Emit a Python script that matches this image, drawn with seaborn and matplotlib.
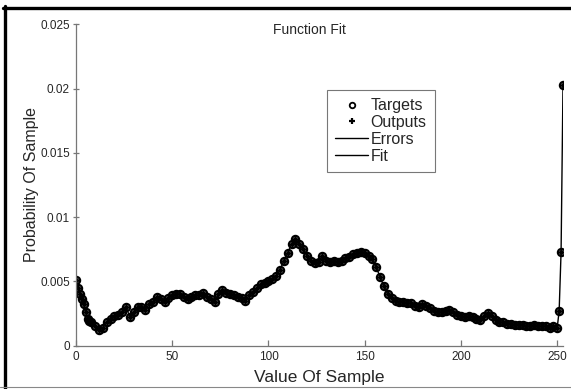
import numpy as np
import pandas as pd
import matplotlib
matplotlib.use("Agg")
import matplotlib.pyplot as plt
from matplotlib.lines import Line2D
import seaborn as sns

# ---- data ----
sample_values = [0, 1, 2, 3, 4, 5, 6, 7, 8, 10, 12, 14, 16, 18, 20, 22, 24, 26, 28, 30,
                 32, 34, 36, 38, 40, 42, 44, 46, 48, 50, 52, 54, 56, 58, 60, 62, 64, 66,
                 68, 70, 72, 74, 76, 78, 80, 82, 84, 86, 88, 90, 92, 94, 96, 98, 100, 102,
                 104, 106, 108, 110, 112, 114, 116, 118, 120, 122, 124, 126, 128, 130, 132,
                 134, 136, 138, 140, 142, 144, 146, 148, 150, 152, 154, 156, 158, 160, 162,
                 164, 166, 168, 170, 172, 174, 176, 178, 180, 182, 184, 186, 188, 190, 192,
                 194, 196, 198, 200, 202, 204, 206, 208, 210, 212, 214, 216, 218, 220, 222,
                 224, 226, 228, 230, 232, 234, 236, 238, 240, 242, 244, 246, 248, 250, 251,
                 252, 253]
targets_milli = [5.1, 4.5, 4.0, 3.6, 3.2, 2.6, 2.1, 1.9, 1.8, 1.5, 1.2, 1.4, 1.8, 2.1, 2.3,
                 2.4, 2.6, 3.0, 2.2, 2.6, 3.0, 3.0, 2.8, 3.2, 3.4, 3.8, 3.6, 3.4, 3.7, 3.9,
                 4.0, 4.0, 3.8, 3.6, 3.8, 3.9, 3.9, 4.1, 3.8, 3.6, 3.4, 4.0, 4.3, 4.1, 4.0,
                 3.9, 3.8, 3.7, 3.5, 3.9, 4.2, 4.5, 4.8, 4.9, 5.0, 5.2, 5.4, 5.9, 6.6, 7.2,
                 7.9, 8.3, 7.9, 7.5, 7.0, 6.6, 6.4, 6.5, 7.0, 6.6, 6.5, 6.6, 6.5, 6.6, 6.8,
                 6.9, 7.1, 7.2, 7.3, 7.2, 7.0, 6.7, 6.1, 5.3, 4.6, 4.0, 3.7, 3.5, 3.4, 3.4,
                 3.3, 3.3, 3.1, 3.0, 3.2, 3.1, 2.9, 2.7, 2.6, 2.6, 2.7, 2.8, 2.6, 2.4, 2.3,
                 2.2, 2.3, 2.2, 2.1, 2.0, 2.3, 2.5, 2.3, 2.0, 1.8, 1.8, 1.7, 1.7, 1.6, 1.6,
                 1.6, 1.5, 1.5, 1.6, 1.5, 1.5, 1.5, 1.4, 1.5, 1.4, 2.7, 7.3, 20.3]
outputs_milli = list(targets_milli)

x_ticks = [0, 50, 100, 150, 200, 250]
y_ticks = [0, 0.005, 0.01, 0.015, 0.02, 0.025]
y_tick_labels = ["0", "0.005", "0.01", "0.015", "0.02", "0.025"]

df = pd.DataFrame({
    "x": sample_values,
    "target": np.array(targets_milli) / 1000.0,
    "output": np.array(outputs_milli) / 1000.0,
})

# ---- style ----
sns.set_style("white")
plt.rcParams["font.family"] = ["Liberation Sans", "DejaVu Sans"]

fig = plt.figure(figsize=(5.71, 3.89), dpi=100)
ax = fig.add_axes([0.1331, 0.1118, 0.8529, 0.8257])

sns.lineplot(data=df, x="x", y="output", ax=ax, color="black", lw=1.0,
             sort=False, legend=False)
ax.vlines(df["x"], df["target"], df["output"], color="black", lw=1.0)
ax.plot(df["x"], df["target"], linestyle="none", marker="o", markersize=5.2,
        markerfacecolor="none", markeredgecolor="black", markeredgewidth=1.6)
ax.plot(df["x"], df["output"], linestyle="none", marker="+", markersize=5.5,
        color="black", markeredgewidth=1.8)

ax.set_xlim(0, 253)
ax.set_ylim(0, 0.025)
ax.set_xticks(x_ticks)
ax.set_yticks(y_ticks)
ax.set_yticklabels(y_tick_labels)
ax.tick_params(axis="x", bottom=True, direction="in", length=4, width=0.9,
               color="#777777", labelsize=8.5, pad=4)
ax.tick_params(axis="y", left=True, direction="inout", length=5, width=0.9,
               color="#777777", labelsize=8.5, pad=2)
for s in ["top", "right"]:
    ax.spines[s].set_visible(False)
for s in ["left", "bottom"]:
    ax.spines[s].set_color("#777777")
    ax.spines[s].set_linewidth(0.9)

ax.set_xlabel("Value Of Sample", fontsize=12.5, labelpad=5)
ax.set_ylabel("Probability Of Sample", fontsize=11.5, labelpad=1)
ax.text(0.48, 0.983, "Function Fit", transform=ax.transAxes, ha="center",
        va="center", fontsize=10)

handles = [
    Line2D([], [], linestyle="none", marker="o", markersize=4, markerfacecolor="none",
           markeredgecolor="black", markeredgewidth=1.3),
    Line2D([], [], linestyle="none", marker="+", markersize=5, color="black",
           markeredgewidth=1.6),
    Line2D([], [], color="black", lw=1.0),
    Line2D([], [], color="black", lw=1.0),
]
leg = ax.legend(handles, ["Targets", "Outputs", "Errors", "Fit"], loc="upper left",
                bbox_to_anchor=(0.515, 0.795), fontsize=11.5, frameon=True,
                fancybox=False, edgecolor="#777777", framealpha=1,
                handlelength=2.1, handletextpad=0.15, labelspacing=0.12,
                borderpad=0.5, borderaxespad=0)
leg.get_frame().set_linewidth(0.8)

# figure border
fig.add_artist(Line2D([3 / 571, 1], [1 - 7.5 / 389, 1 - 7.5 / 389], color="black",
                      lw=2.4, transform=fig.transFigure))
fig.add_artist(Line2D([4.5 / 571, 4.5 / 571], [0, 1 - 6 / 389], color="black",
                      lw=2.4, transform=fig.transFigure))
fig.add_artist(Line2D([0, 1], [2 / 389, 2 / 389], color="#888888",
                      lw=0.8, transform=fig.transFigure))

fig.savefig("out.png", dpi=100)
